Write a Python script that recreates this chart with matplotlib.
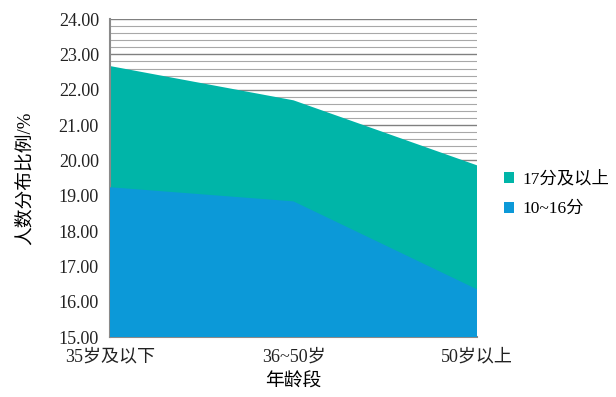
import numpy as np
import matplotlib.pyplot as plt
from matplotlib.ticker import MultipleLocator, FormatStrFormatter

plt.rcParams['font.family'] = ['Liberation Serif', 'Noto Sans CJK SC']

# 数据
age_groups = ["35岁及以下", "36~50岁", "50岁以上"]
high_score = [22.67, 21.70, 19.86]   # 17分及以上
mid_score = [19.24, 18.84, 16.35]    # 10~16分
series_names = ["17分及以上", "10~16分"]

teal = '#00b5a8'
blue = '#0c99d8'

fig = plt.figure(figsize=(6.16, 3.97), dpi=100)
ax = fig.add_axes([0.1786, 0.151, 0.5958, 0.801])

x = np.arange(len(age_groups))
ax.fill_between(x, 0, high_score, color=teal, lw=0, zorder=2, label=series_names[0])
ax.fill_between(x, 0, mid_score, color=blue, lw=0, zorder=3, label=series_names[1])

ax.set_xlim(0, len(age_groups) - 1)
ax.set_ylim(15, 24)
ax.yaxis.set_major_locator(MultipleLocator(1))
ax.yaxis.set_minor_locator(MultipleLocator(0.2))
ax.yaxis.set_major_formatter(FormatStrFormatter('%.2f'))
ax.grid(axis='y', which='major', color='#808080', lw=1.0, zorder=0)
ax.grid(axis='y', which='minor', color='#a8a8a8', lw=0.8, zorder=0)
ax.set_axisbelow(True)

ax.set_xticks(x)
ax.set_xticklabels(age_groups)
ax.tick_params(axis='both', which='both', length=0, labelsize=13, colors='#222222')
ax.tick_params(axis='x', pad=8)
ax.tick_params(axis='y', pad=8)

for s in ['top', 'right']:
    ax.spines[s].set_visible(False)
for s in ['left', 'bottom']:
    ax.spines[s].set_color('#8a8a8a')
    ax.spines[s].set_linewidth(1.5)

ax.set_ylabel("人数分布比例/%", fontsize=13.5, labelpad=18)
ax.set_xlabel("年龄段", fontsize=13.5, labelpad=6)

ax.legend(loc='center left', bbox_to_anchor=(1.03, 0.45), frameon=False,
          fontsize=12.5, handlelength=0.6, handleheight=0.6, handletextpad=0.5,
          labelspacing=0.8)

fig.savefig('out.png', dpi=100)
